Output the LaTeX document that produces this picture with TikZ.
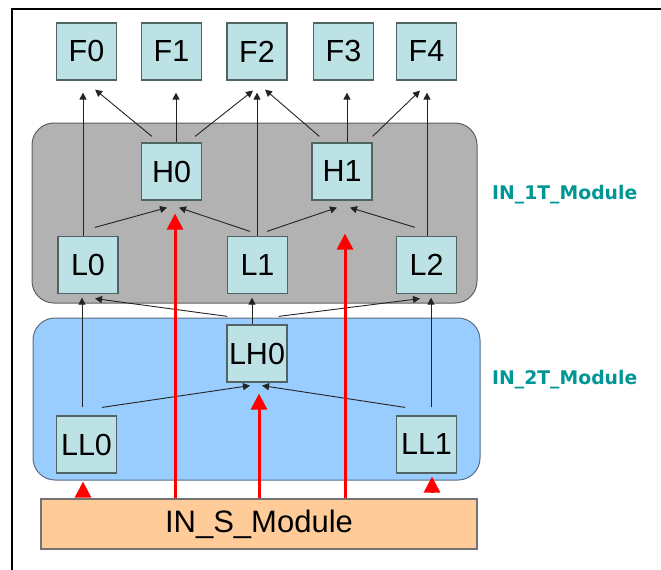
\documentclass[tikz,border=0pt]{standalone}
\usepackage{fontspec}
\setmainfont{Liberation Sans}
\newfontfamily\modfont{DejaVu Sans}
\usetikzlibrary{arrows.meta}

\definecolor{boxfill}{RGB}{189,226,229}
\definecolor{boxedge}{RGB}{80,100,100}
\definecolor{grayfill}{RGB}{178,178,178}
\definecolor{grayedge}{RGB}{95,95,95}
\definecolor{bluefill}{RGB}{153,204,255}
\definecolor{blueedge}{RGB}{90,110,130}
\definecolor{srcfill}{RGB}{255,204,153}
\definecolor{srcedge}{RGB}{115,115,115}
\definecolor{modlabel}{RGB}{0,150,150}
\definecolor{feed}{RGB}{255,0,0}
\definecolor{linkcol}{RGB}{35,35,35}

\begin{document}
\begin{tikzpicture}[x=1pt,y=-1pt,
  unit/.style={draw=boxedge, fill=boxfill, line width=1.2pt,
    minimum width=60pt, minimum height=57pt, inner sep=0pt,
    font=\fontsize{30.5}{31}\selectfont},
  tier/.style={rounded corners=22pt, line width=1pt, inner sep=0pt},
  tiername/.style={anchor=west, text=modlabel, inner sep=0pt,
    font=\modfont\bfseries\fontsize{18.8}{20}\selectfont},
  link/.style={draw=linkcol, line width=0.9pt,
    -{Triangle[length=7pt,width=7pt]}},
  feedarrow/.style={draw=feed, line width=3pt,
    -{Triangle[length=16pt,width=16pt]}}]

\useasboundingbox (0,0) rectangle (661,570);

% page frame (top and left rules)
\draw[line width=2.5pt] (12,570) -- (12,9) -- (661,9);

% module containers
\node[tier, draw=grayedge, fill=grayfill, minimum width=445pt, minimum height=180pt]
  (tier1) at (254.5,213) {};
\node[tier, draw=blueedge, fill=bluefill, minimum width=447pt, minimum height=162pt]
  (tier2) at (256.5,399) {};
\node[draw=srcedge, fill=srcfill, line width=1.5pt, minimum width=436pt,
  minimum height=50pt, inner sep=0pt, font=\fontsize{31}{32}\selectfont]
  (src) at (259,524) {IN\_S\_Module};

\node[tiername] (tier1name) at (492,195) {IN\_1T\_Module};
\node[tiername] (tier2name) at (492,380) {IN\_2T\_Module};

% output row
\node[unit] (F0) at (86.5,51.5) {F0};
\node[unit] (F1) at (171.5,51.5) {F1};
\node[unit] (F2) at (257,51.5) {F2};
\node[unit] (F3) at (343.5,51.5) {F3};
\node[unit] (F4) at (426.5,51.5) {F4};

% IN_1T units
\node[unit] (H0) at (171.5,171.5) {H0};
\node[unit] (H1) at (342,171.5) {H1};
\node[unit] (L0) at (88,265) {L0};
\node[unit] (L1) at (257.5,265) {L1};
\node[unit] (L2) at (426.5,265) {L2};

% IN_2T units
\node[unit] (LH0) at (257,353.5) {LH0};
\node[unit] (LL0) at (86.5,444.5) {LL0};
\node[unit] (LL1) at (426.5,444.5) {LL1};

% connections into the output row
\draw[link] ([xshift=-5pt]L0.north) -- ([shift={(-3.5,12)}]F0.south);
\draw[link] ([shift={(11,-6)}]H0.north west) -- ([shift={(-22,9)}]F0.south east);
\draw[link] ([xshift=4.5pt]H0.north) -- ([shift={(4.5,12)}]F1.south);
\draw[link] ([shift={(-7,-6)}]H0.north east) -- ([shift={(-4,10)}]F2.south);
\draw[link] ([xshift=-0.5pt]L1.north) -- ([shift={(0,12)}]F2.south);
\draw[link] ([shift={(8,-6)}]H1.north west) -- ([shift={(8,9)}]F2.south);
\draw[link] ([xshift=5pt]H1.north) -- ([shift={(3.5,12)}]F3.south);
\draw[link] ([shift={(0,-6)}]H1.north east) -- ([shift={(-6.5,10)}]F4.south);
\draw[link] ([xshift=0.5pt]L2.north) -- ([shift={(0.5,12)}]F4.south);

% L -> H
\draw[link] ([shift={(7,-8.5)}]L0.north) -- ([shift={(-4.5,7)}]H0.south);
\draw[link] ([shift={(-7.5,-4.5)}]L1.north) -- ([shift={(7.5,7)}]H0.south);
\draw[link] ([shift={(9.5,-4.5)}]L1.north) -- ([shift={(-5,7)}]H1.south);
\draw[link] ([shift={(-11.5,-8.5)}]L2.north) -- ([shift={(8,7)}]H1.south);

% IN_2T -> IN_1T
\draw[link] ([shift={(1,-8)}]LH0.north west) -- ([shift={(7,4.5)}]L0.south);
\draw[link] ([xshift=-5pt]LH0.north) -- ([shift={(-5.5,3.5)}]L1.south);
\draw[link] ([shift={(-9,-8)}]LH0.north east) -- ([shift={(-6.5,4.5)}]L2.south);
\draw[link] ([shift={(-4.5,-8)}]LL0.north) -- ([shift={(-6,3.5)}]L0.south);
\draw[link] ([shift={(4.5,-8)}]LL1.north) -- ([shift={(4.5,3.5)}]L2.south);

% LL -> LH
\draw[link] ([shift={(15.5,-8)}]LL0.north) -- ([shift={(-7,3)}]LH0.south);
\draw[link] ([shift={(-21.5,-8)}]LL1.north) -- ([shift={(5,3)}]LH0.south);

% feeds from IN_S_Module
\draw[feedarrow] ([xshift=-84pt]src.north) -- ([shift={(3.5,13)}]H0.south);
\draw[feedarrow] ([xshift=86pt]src.north) -- ([shift={(3,33)}]H1.south);
\draw[feedarrow] (src.north) -- ([shift={(2,11)}]LH0.south);
\draw[feedarrow] ([shift={(-176,-2)}]src.north) -- ([shift={(-3.5,8)}]LL0.south);
\draw[feedarrow] ([shift={(173,-6)}]src.north) -- ([shift={(5.5,3)}]LL1.south);

\end{tikzpicture}
\end{document}
